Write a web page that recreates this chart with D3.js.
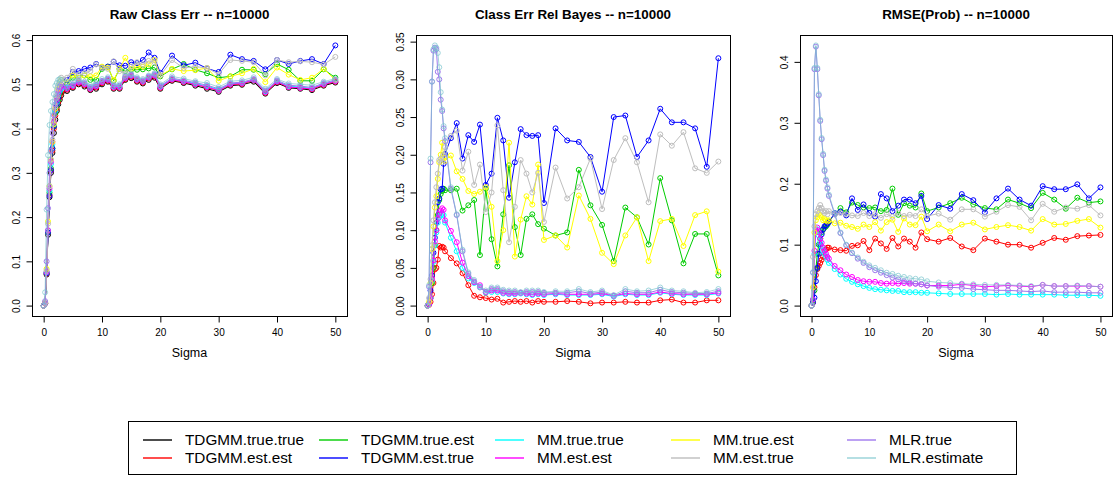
<!DOCTYPE html>
<html>
<head>
<meta charset="utf-8">
<script src="https://cdn.jsdelivr.net/npm/d3@7"></script>
<style>
    body { margin: 0; background: #fff; }
    text { font-family: "Liberation Sans", Arial, Helvetica, sans-serif; }
</style>
</head>
<body>
<svg id="chart" width="1117" height="478"></svg>
<script>
// sigma grid shared by all panels
const sigma = [0, 0.25, 0.5, 0.75, 1, 1.25, 1.5, 1.75, 2, 2.25, 2.5, 2.75, 3,
    4, 5, 6, 7, 8, 9, 10, 11, 12, 13, 14, 15, 16, 17, 18, 19, 20,
    22, 24, 26, 28, 30, 32, 34, 36, 38, 40, 42, 44, 46, 48, 50];

const methods = ["TDGMM.true.true", "TDGMM.est.est", "TDGMM.true.est", "TDGMM.est.true",
    "MM.true.true", "MM.est.est", "MM.true.est", "MM.est.true", "MLR.true", "MLR.estimate"];
const methodColors = ["#000000", "#FF0000", "#00CD00", "#0000FF", "#00FFFF",
    "#FF00FF", "#FFFF00", "#BEBEBE", "#9F79EE", "#7AC5CD"];

const xTicks = [0, 10, 20, 30, 40, 50];
const rawTicks = [0, 0.1, 0.2, 0.3, 0.4, 0.5, 0.6];
const relTicks = [0, 0.05, 0.1, 0.15, 0.2, 0.25, 0.3, 0.35];
const rmseTicks = [0, 0.1, 0.2, 0.3, 0.4];

// panel 1: raw class error
const rawTdgmmTT = [0, 0.005, 0.07, 0.16, 0.245, 0.3, 0.345, 0.39, 0.42, 0.44, 0.455, 0.465, 0.475,
    0.485, 0.492, 0.5, 0.495, 0.487, 0.49, 0.5, 0.506, 0.49, 0.49, 0.51, 0.514, 0.506, 0.502, 0.51, 0.515, 0.49,
    0.508, 0.503, 0.497, 0.49, 0.483, 0.497, 0.499, 0.506, 0.479, 0.503, 0.492, 0.49, 0.487, 0.497, 0.504];
const rawTdgmmEE = [0, 0.005, 0.072, 0.165, 0.25, 0.305, 0.35, 0.4, 0.43, 0.445, 0.46, 0.47, 0.48,
    0.488, 0.494, 0.502, 0.498, 0.489, 0.493, 0.503, 0.508, 0.492, 0.492, 0.512, 0.517, 0.508, 0.504, 0.513, 0.518, 0.492,
    0.51, 0.505, 0.5, 0.493, 0.486, 0.499, 0.501, 0.509, 0.481, 0.505, 0.494, 0.492, 0.489, 0.499, 0.506];
const rawTdgmmTE = [0, 0.006, 0.075, 0.165, 0.255, 0.31, 0.355, 0.405, 0.435, 0.45, 0.465, 0.48, 0.49,
    0.5, 0.515, 0.52, 0.52, 0.51, 0.51, 0.535, 0.54, 0.508, 0.535, 0.53, 0.533, 0.533, 0.534, 0.536, 0.538, 0.518,
    0.534, 0.546, 0.533, 0.525, 0.515, 0.518, 0.533, 0.533, 0.523, 0.546, 0.533, 0.508, 0.508, 0.534, 0.515];
const rawTdgmmET = [0, 0.005, 0.073, 0.165, 0.248, 0.306, 0.355, 0.405, 0.44, 0.455, 0.47, 0.485, 0.495,
    0.51, 0.528, 0.53, 0.535, 0.538, 0.546, 0.538, 0.54, 0.551, 0.543, 0.542, 0.55, 0.548, 0.555, 0.572, 0.56, 0.526,
    0.565, 0.543, 0.549, 0.536, 0.528, 0.567, 0.557, 0.553, 0.534, 0.555, 0.546, 0.553, 0.557, 0.546, 0.588];
const rawMmTT = [0, 0.006, 0.075, 0.17, 0.26, 0.32, 0.365, 0.41, 0.44, 0.46, 0.475, 0.485, 0.49,
    0.492, 0.498, 0.506, 0.501, 0.492, 0.497, 0.506, 0.511, 0.495, 0.495, 0.515, 0.52, 0.511, 0.507, 0.516, 0.521, 0.495,
    0.512, 0.507, 0.502, 0.496, 0.488, 0.501, 0.503, 0.51, 0.484, 0.507, 0.496, 0.494, 0.491, 0.501, 0.508];
const rawMmEE = [0, 0.006, 0.076, 0.17, 0.265, 0.325, 0.37, 0.415, 0.445, 0.465, 0.48, 0.49, 0.495,
    0.49, 0.496, 0.504, 0.5, 0.49, 0.495, 0.505, 0.51, 0.493, 0.493, 0.514, 0.519, 0.51, 0.506, 0.515, 0.52, 0.493,
    0.511, 0.506, 0.5, 0.494, 0.486, 0.5, 0.502, 0.51, 0.482, 0.506, 0.494, 0.492, 0.49, 0.5, 0.507];
const rawMmTE = [0, 0.007, 0.083, 0.19, 0.27, 0.33, 0.37, 0.41, 0.445, 0.47, 0.49, 0.5, 0.51,
    0.505, 0.52, 0.515, 0.52, 0.518, 0.52, 0.54, 0.538, 0.51, 0.535, 0.56, 0.535, 0.54, 0.54, 0.545, 0.555, 0.52,
    0.535, 0.53, 0.532, 0.537, 0.508, 0.518, 0.525, 0.535, 0.505, 0.538, 0.522, 0.51, 0.515, 0.535, 0.51];
const rawMmET = [0, 0.007, 0.08, 0.185, 0.27, 0.33, 0.375, 0.42, 0.45, 0.475, 0.495, 0.505, 0.515,
    0.515, 0.535, 0.52, 0.525, 0.53, 0.545, 0.537, 0.535, 0.552, 0.53, 0.525, 0.54, 0.55, 0.545, 0.553, 0.55, 0.52,
    0.555, 0.537, 0.54, 0.537, 0.523, 0.555, 0.553, 0.55, 0.52, 0.555, 0.55, 0.552, 0.55, 0.545, 0.562];
const rawMlrTrue = [0, 0.01, 0.1, 0.22, 0.3, 0.35, 0.39, 0.43, 0.455, 0.47, 0.485, 0.495, 0.5,
    0.495, 0.5, 0.508, 0.503, 0.494, 0.499, 0.508, 0.513, 0.497, 0.497, 0.517, 0.522, 0.513, 0.509, 0.518, 0.523, 0.497,
    0.514, 0.509, 0.504, 0.498, 0.49, 0.503, 0.505, 0.512, 0.486, 0.509, 0.498, 0.496, 0.493, 0.503, 0.51];
const rawMlrEst = [0, 0.03, 0.217, 0.34, 0.408, 0.44, 0.46, 0.478, 0.497, 0.503, 0.51, 0.512, 0.51,
    0.505, 0.508, 0.512, 0.506, 0.498, 0.503, 0.512, 0.516, 0.5, 0.5, 0.52, 0.524, 0.516, 0.512, 0.52, 0.525, 0.5,
    0.518, 0.513, 0.507, 0.503, 0.494, 0.507, 0.509, 0.516, 0.49, 0.512, 0.502, 0.5, 0.498, 0.506, 0.513];

// panel 2: class error relative to bayes (TDGMM.true.true is the bayes rule, not drawn)
const relTdgmmTT = [];
const relTdgmmEE = [0, 0.001, 0.005, 0.015, 0.03, 0.048, 0.05, 0.061, 0.079, 0.077, 0.078, 0.077, 0.072,
    0.063, 0.056, 0.043, 0.027, 0.013, 0.011, 0.01, 0.008, 0.009, 0.004, 0.005, 0.006, 0.005, 0.006, 0.004, 0.006, 0.005,
    0.005, 0.006, 0.005, 0.003, 0.004, 0.004, 0.005, 0.004, 0.004, 0.007, 0.008, 0.004, 0.004, 0.007, 0.007];
const relTdgmmTE = [0, 0.002, 0.01, 0.03, 0.05, 0.08, 0.1, 0.12, 0.14, 0.148, 0.152, 0.155, 0.153,
    0.153, 0.155, 0.126, 0.133, 0.14, 0.067, 0.155, 0.088, 0.052, 0.121, 0.186, 0.104, 0.067, 0.115, 0.121, 0.108, 0.102,
    0.093, 0.097, 0.18, 0.133, 0.107, 0.059, 0.13, 0.117, 0.081, 0.169, 0.113, 0.056, 0.095, 0.095, 0.04];
const relTdgmmET = [0, 0.002, 0.02, 0.04, 0.07, 0.09, 0.11, 0.137, 0.142, 0.154, 0.155, 0.188, 0.201,
    0.222, 0.242, 0.195, 0.226, 0.217, 0.24, 0.16, 0.175, 0.249, 0.219, 0.143, 0.19, 0.234, 0.226, 0.225, 0.226, 0.136,
    0.235, 0.219, 0.217, 0.197, 0.151, 0.25, 0.252, 0.197, 0.219, 0.261, 0.243, 0.243, 0.235, 0.184, 0.328];
const relMmTT = [0, 0.002, 0.01, 0.033, 0.058, 0.08, 0.097, 0.11, 0.117, 0.12, 0.122, 0.12, 0.11,
    0.09, 0.072, 0.05, 0.036, 0.03, 0.025, 0.017, 0.018, 0.018, 0.016, 0.015, 0.015, 0.016, 0.015, 0.014, 0.015, 0.014,
    0.015, 0.014, 0.014, 0.014, 0.015, 0.012, 0.015, 0.014, 0.014, 0.017, 0.015, 0.014, 0.014, 0.014, 0.016];
const relMmEE = [0, 0.002, 0.01, 0.035, 0.06, 0.085, 0.1, 0.115, 0.122, 0.126, 0.129, 0.127, 0.113,
    0.099, 0.084, 0.057, 0.039, 0.031, 0.027, 0.018, 0.02, 0.02, 0.017, 0.016, 0.016, 0.017, 0.016, 0.015, 0.016, 0.015,
    0.016, 0.015, 0.015, 0.015, 0.016, 0.013, 0.016, 0.015, 0.015, 0.018, 0.016, 0.015, 0.015, 0.015, 0.017];
const relMmTE = [0, 0.005, 0.03, 0.075, 0.105, 0.13, 0.145, 0.168, 0.19, 0.2, 0.216, 0.196, 0.192,
    0.199, 0.178, 0.168, 0.152, 0.148, 0.151, 0.157, 0.131, 0.059, 0.1, 0.216, 0.065, 0.114, 0.145, 0.134, 0.187, 0.087,
    0.093, 0.077, 0.146, 0.115, 0.07, 0.055, 0.093, 0.117, 0.059, 0.112, 0.115, 0.079, 0.12, 0.125, 0.045];
const relMmET = [0, 0.01, 0.035, 0.08, 0.113, 0.137, 0.157, 0.175, 0.193, 0.195, 0.19, 0.2, 0.21,
    0.225, 0.232, 0.179, 0.204, 0.16, 0.187, 0.124, 0.15, 0.239, 0.153, 0.084, 0.131, 0.193, 0.175, 0.15, 0.176, 0.111,
    0.183, 0.142, 0.157, 0.195, 0.128, 0.193, 0.222, 0.19, 0.137, 0.227, 0.212, 0.23, 0.182, 0.176, 0.191];
const relMlrTrue = [0, 0.025, 0.19, 0.297, 0.338, 0.342, 0.34, 0.31, 0.3, 0.273, 0.258, 0.235, 0.218,
    0.155, 0.12, 0.072, 0.042, 0.032, 0.024, 0.018, 0.022, 0.022, 0.019, 0.018, 0.018, 0.017, 0.018, 0.018, 0.018, 0.017,
    0.017, 0.017, 0.019, 0.016, 0.018, 0.013, 0.019, 0.017, 0.017, 0.021, 0.018, 0.017, 0.016, 0.016, 0.019];
const relMlrEst = [0, 0.027, 0.195, 0.297, 0.34, 0.345, 0.342, 0.335, 0.316, 0.283, 0.26, 0.238, 0.222,
    0.157, 0.121, 0.074, 0.044, 0.034, 0.025, 0.02, 0.024, 0.024, 0.021, 0.02, 0.02, 0.018, 0.02, 0.02, 0.02, 0.018,
    0.019, 0.019, 0.022, 0.018, 0.02, 0.014, 0.022, 0.019, 0.02, 0.024, 0.02, 0.019, 0.017, 0.018, 0.022];

// panel 3: rmse of the class probabilities (true model not drawn)
const rmseTdgmmTT = [];
const rmseTdgmmEE = [0, 0.005, 0.03, 0.05, 0.06, 0.065, 0.07, 0.075, 0.08, 0.09, 0.092, 0.095, 0.095,
    0.092, 0.091, 0.09, 0.098, 0.099, 0.106, 0.091, 0.11, 0.102, 0.093, 0.111, 0.097, 0.11, 0.105, 0.095, 0.12, 0.109,
    0.105, 0.111, 0.097, 0.091, 0.11, 0.105, 0.1, 0.1, 0.095, 0.103, 0.111, 0.108, 0.114, 0.115, 0.116];
const rmseTdgmmTE = [0, 0.008, 0.025, 0.06, 0.085, 0.1, 0.11, 0.12, 0.125, 0.128, 0.13, 0.133, 0.138,
    0.15, 0.16, 0.153, 0.169, 0.165, 0.161, 0.16, 0.161, 0.155, 0.157, 0.192, 0.149, 0.168, 0.164, 0.161, 0.184, 0.155,
    0.161, 0.168, 0.177, 0.166, 0.16, 0.158, 0.174, 0.168, 0.16, 0.185, 0.174, 0.159, 0.177, 0.169, 0.171];
const rmseTdgmmET = [0, 0.005, 0.013, 0.04, 0.062, 0.085, 0.1, 0.117, 0.125, 0.13, 0.132, 0.135, 0.137,
    0.152, 0.154, 0.148, 0.176, 0.157, 0.166, 0.152, 0.146, 0.183, 0.176, 0.155, 0.164, 0.174, 0.174, 0.168, 0.18, 0.142,
    0.165, 0.159, 0.183, 0.173, 0.153, 0.176, 0.192, 0.174, 0.164, 0.196, 0.191, 0.191, 0.199, 0.176, 0.194];
const rmseMmTT = [0, 0.01, 0.085, 0.122, 0.125, 0.115, 0.105, 0.097, 0.09, 0.085, 0.08, 0.075, 0.07,
    0.06, 0.051, 0.044, 0.039, 0.035, 0.032, 0.029, 0.027, 0.026, 0.025, 0.024, 0.024, 0.022, 0.022, 0.022, 0.021, 0.021,
    0.02, 0.019, 0.019, 0.019, 0.019, 0.018, 0.019, 0.018, 0.018, 0.018, 0.018, 0.017, 0.017, 0.017, 0.016];
const rmseMmEE = [0, 0.01, 0.09, 0.125, 0.128, 0.12, 0.11, 0.103, 0.095, 0.09, 0.085, 0.08, 0.077,
    0.065, 0.058, 0.051, 0.047, 0.042, 0.04, 0.039, 0.039, 0.037, 0.036, 0.037, 0.036, 0.037, 0.036, 0.036, 0.035, 0.033,
    0.033, 0.033, 0.035, 0.033, 0.031, 0.032, 0.033, 0.032, 0.031, 0.034, 0.032, 0.032, 0.032, 0.032, 0.031];
const rmseMmTE = [0, 0.03, 0.12, 0.14, 0.145, 0.15, 0.148, 0.145, 0.14, 0.142, 0.14, 0.138, 0.14,
    0.135, 0.136, 0.131, 0.129, 0.126, 0.133, 0.129, 0.137, 0.123, 0.137, 0.141, 0.121, 0.143, 0.133, 0.132, 0.146, 0.122,
    0.133, 0.122, 0.133, 0.136, 0.125, 0.129, 0.132, 0.129, 0.123, 0.142, 0.133, 0.134, 0.139, 0.142, 0.128];
const rmseMmET = [0, 0.08, 0.13, 0.15, 0.155, 0.16, 0.165, 0.16, 0.155, 0.152, 0.155, 0.15, 0.155,
    0.15, 0.152, 0.15, 0.148, 0.147, 0.152, 0.147, 0.15, 0.144, 0.15, 0.146, 0.152, 0.147, 0.149, 0.147, 0.158, 0.147,
    0.151, 0.141, 0.158, 0.158, 0.146, 0.154, 0.165, 0.162, 0.14, 0.167, 0.154, 0.161, 0.159, 0.165, 0.148];
const rmseMlrTrue = [0, 0.054, 0.388, 0.425, 0.388, 0.345, 0.303, 0.273, 0.247, 0.221, 0.205, 0.192, 0.18,
    0.15, 0.119, 0.099, 0.086, 0.077, 0.07, 0.063, 0.058, 0.054, 0.05, 0.046, 0.043, 0.04, 0.038, 0.036, 0.035, 0.033,
    0.031, 0.03, 0.029, 0.027, 0.026, 0.025, 0.025, 0.024, 0.023, 0.024, 0.022, 0.022, 0.022, 0.021, 0.021];
const rmseMlrEst = [0, 0.055, 0.39, 0.427, 0.39, 0.347, 0.305, 0.275, 0.249, 0.223, 0.207, 0.194, 0.182,
    0.152, 0.12, 0.1, 0.087, 0.079, 0.072, 0.066, 0.062, 0.058, 0.054, 0.052, 0.049, 0.047, 0.045, 0.044, 0.043, 0.04,
    0.038, 0.037, 0.036, 0.035, 0.034, 0.034, 0.034, 0.033, 0.032, 0.034, 0.032, 0.032, 0.033, 0.032, 0.031];

let svg = d3.select("#chart");

// plot boxes (pixel frame of each panel)
const boxTop = 35, boxBottom = 316;

let panels = [
    {title: "Raw Class Err -- n=10000", left: 32, right: 347, ticks: rawTicks, fmt: d3.format(".1f"),
        series: [rawTdgmmTT, rawTdgmmEE, rawTdgmmTE, rawTdgmmET, rawMmTT, rawMmEE, rawMmTE, rawMmET, rawMlrTrue, rawMlrEst]},
    {title: "Class Err Rel Bayes -- n=10000", left: 416, right: 730, ticks: relTicks, fmt: d3.format(".2f"),
        series: [relTdgmmTT, relTdgmmEE, relTdgmmTE, relTdgmmET, relMmTT, relMmEE, relMmTE, relMmET, relMlrTrue, relMlrEst]},
    {title: "RMSE(Prob) -- n=10000", left: 800, right: 1112, ticks: rmseTicks, fmt: d3.format(".1f"),
        series: [rmseTdgmmTT, rmseTdgmmEE, rmseTdgmmTE, rmseTdgmmET, rmseMmTT, rmseMmEE, rmseMmTE, rmseMmET, rmseMlrTrue, rmseMlrEst]}
];

// R style 4% range extension
function padRange(ext) {
    let d = (ext[1] - ext[0]) * 0.04;
    return [ext[0] - d, ext[1] + d];
}

function drawPanel(p) {
    let g = svg.append("g");

    let x = d3.scaleLinear().domain(padRange(d3.extent(sigma))).range([p.left, p.right]);
    let y = d3.scaleLinear().domain(padRange(d3.extent(p.series.flat()))).range([boxBottom, boxTop]);

    // lines + open circles, drawn in series order
    let line = d3.line().x(function (d, i) { return x(sigma[i]); }).y(function (d) { return y(d); });
    p.series.forEach(function (vals, k) {
        if (!vals.length) { return; }
        let op = k === 9 ? 0.7 : 1;
        g.append("path")
            .attr("d", line(vals))
            .attr("fill", "none")
            .attr("stroke", methodColors[k])
            .attr("stroke-opacity", op)
            .attr("stroke-width", 1);
        g.append("g").selectAll("circle")
            .data(vals).enter().append("circle")
            .attr("cx", function (d, i) { return x(sigma[i]); })
            .attr("cy", function (d) { return y(d); })
            .attr("r", 2.5)
            .attr("fill", "none")
            .attr("stroke", methodColors[k])
            .attr("stroke-opacity", op)
            .attr("stroke-width", 1);
    });

    // box
    g.append("rect")
        .attr("x", p.left + 0.5).attr("y", boxTop + 0.5)
        .attr("width", p.right - p.left).attr("height", boxBottom - boxTop)
        .attr("fill", "none").attr("stroke", "#000").attr("stroke-width", 1);

    // x axis
    let xa = g.append("g")
        .attr("transform", "translate(0," + (boxBottom + 0.5) + ")")
        .call(d3.axisBottom(x).tickValues(xTicks).tickSize(6).tickPadding(6).tickSizeOuter(0));
    xa.select(".domain").attr("d", "M" + x(xTicks[0]) + ",0H" + x(xTicks[xTicks.length - 1]));
    xa.selectAll("text").style("font-size", "10px").attr("fill", "#000");

    // y axis, labels turned like R
    let ya = g.append("g")
        .attr("transform", "translate(" + (p.left + 0.5) + ",0)")
        .call(d3.axisLeft(y).tickValues(p.ticks).tickFormat(p.fmt).tickSize(6).tickSizeOuter(0));
    ya.select(".domain").attr("d", "M0," + y(p.ticks[0]) + "V" + y(p.ticks[p.ticks.length - 1]));
    ya.selectAll("text")
        .attr("transform", "rotate(-90)")
        .attr("x", 0).attr("y", -13).attr("dy", null)
        .style("text-anchor", "middle")
        .style("font-size", "10px")
        .attr("fill", "#000");
    g.selectAll(".tick line").attr("stroke", "#000");

    // titles
    g.append("text")
        .attr("x", (p.left + p.right) / 2).attr("y", 19)
        .attr("text-anchor", "middle")
        .style("font-size", "13.4px").style("font-weight", "bold")
        .text(p.title);
    g.append("text")
        .attr("x", (p.left + p.right) / 2).attr("y", 357)
        .attr("text-anchor", "middle")
        .style("font-size", "12.5px")
        .text("Sigma");
}

panels.forEach(drawPanel);

// legend, 5 columns filled column by column
let legend = svg.append("g");
legend.append("rect")
    .attr("x", 128.5).attr("y", 421.5).attr("width", 888).attr("height", 53)
    .attr("fill", "none").attr("stroke", "#000").attr("stroke-width", 1);

let colX = d3.scalePoint().domain(d3.range(5)).range([143, 847]);
let rowY = [440, 458];
methods.forEach(function (name, k) {
    let cx = colX(Math.floor(k / 2)), cy = rowY[k % 2];
    // sits across two pixel rows, as the antialiased R segment does
    legend.append("line")
        .attr("x1", cx).attr("x2", cx + 29).attr("y1", cy).attr("y2", cy)
        .attr("stroke", methodColors[k]).attr("stroke-width", 1.4)
        .attr("stroke-opacity", k === 9 ? 0.8 : 1);
    legend.append("text")
        .attr("x", cx + 42).attr("y", cy + 5)
        .style("font-size", "15.3px")
        .text(name);
});
</script>
</body>
</html>
